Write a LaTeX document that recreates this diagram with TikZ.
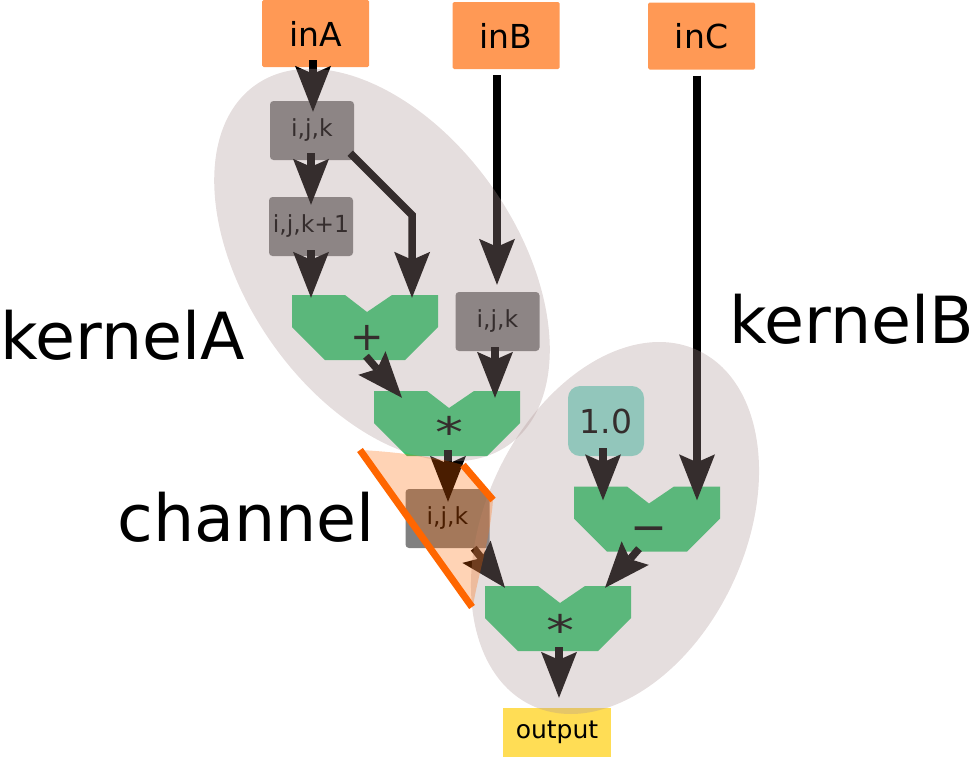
\documentclass[tikz,border=0pt]{standalone}
\usepackage{fontspec}
\usepackage{graphicx}
\setmainfont{DejaVu Sans}
\usetikzlibrary{arrows.meta,calc}
\definecolor{inorange}{HTML}{FF9955}
\definecolor{idxgray}{HTML}{808080}
\definecolor{opgreen}{HTML}{37C871}
\definecolor{tealc}{HTML}{87DECD}
\definecolor{outy}{HTML}{FFDD55}
\definecolor{kernfill}{HTML}{AC9393}
\definecolor{chanc}{HTML}{FF6600}
\newcommand\opsym[2]{\kern4pt\raisebox{#2pt}[0pt][0pt]{#1}}
\begin{document}
\begin{tikzpicture}[x=1pt,y=-1pt,
  inbox/.style={rectangle, fill=inorange, minimum width=107pt, minimum height=67pt, rounded corners=1.5pt, inner sep=0pt, font=\fontsize{33}{40}\selectfont},
  idx/.style={rectangle, fill=idxgray, minimum width=84pt, minimum height=59pt, rounded corners=3.5pt, inner sep=0pt, font=\fontsize{23.5}{28}\selectfont},
  op/.style={rectangle, minimum width=146pt, minimum height=65pt, inner sep=0pt, font=\fontsize{40}{40}\selectfont,
    path picture={\fill[opgreen] (path picture bounding box.north west) -- ++(53,0) -- ++(22,17) -- ++(25,-17) -- ++(46,0) -- ++(0,32) -- ++(-33,33) -- ++(-80,0) -- ++(-33,-33) -- cycle;}},
  constbox/.style={rectangle, fill=tealc, minimum width=76pt, minimum height=70pt, rounded corners=12pt, inner sep=0pt, font=\fontsize{33}{40}\selectfont},
  outbox/.style={rectangle, fill=outy, minimum width=108pt, minimum height=49pt, inner sep=0pt, font=\fontsize{25}{30}\selectfont},
  arr/.style={line width=7.5pt, black, -{Stealth[length=46pt,width=36pt,inset=8pt,line width=0pt]}},
  kern/.style={fill=kernfill, fill opacity=0.31},
  chanfill/.style={fill=chanc, fill opacity=0.29},
  chanline/.style={draw=chanc, line width=7pt},
  biglbl/.style={inner sep=0pt, font=\fontsize{65}{70}\selectfont, anchor=base west}
]
\useasboundingbox (0,0) rectangle (973,758);
% inputs
\node[inbox] (inA) at (315.5,33.5) {inA};
\node[inbox] (inB) at (506,35.5) {inB};
\node[inbox] (inC) at (701.5,36) {inC};
% index boxes
\node[idx] (A1) at (312,130.5) {i,j,k};
\node[idx] (A2) at (311,226.5) {i,j,k+1};
\node[idx] (B) at (497.5,321.5) {i,j,k};
\node[idx] (ch) at (447.5,518.5) {i,j,k};
% operators
\node[op] (plus) at (365,327.5) {\opsym{+}{-23}};
\node[op] (mulA) at (447,423.5) {\opsym{\scalebox{1}[0.75]{\fontsize{56}{56}\selectfont *}}{-24}};
\node[op] (minus) at (647,519) {\opsym{\fontsize{44}{44}\selectfont −}{-23}};
\node[op] (mulB) at (558,618.5) {\opsym{\scalebox{1}[0.75]{\fontsize{56}{56}\selectfont *}}{-27}};
\node[constbox] (one) at (606,421) {1.0};
\node[outbox] (out) at (557,732.5) {output};
% connectors
\draw[arr] ($(inA.south)+(-2.5,-7)$) -- ($(A1.north)+(1,11)$);
\draw[arr] ($(A1.south)+(-1,-7)$) -- ($(A2.north)+(0,8)$);
\draw[arr] ($(A1.south east)+(-4,-7)$) -- ++(62,62) -- ($(plus.north)+(47,3)$);
\draw[arr] ($(A2.south)+(0,-6)$) -- ($(plus.north)+(-54,3)$);
\draw[arr] ($(inB.south)+(-9,6)$) -- ($(B.north)+(-0.5,-7)$);
\draw[arr] ($(plus.south)+(1,-4)$) -- ($(mulA.north)+(-45,7)$);
\draw[arr] ($(B.south)+(-2.5,-4)$) -- ($(mulA.north)+(48,7)$);
\draw[arr] ($(mulA.south)+(1,-6)$) -- ($(ch.north)+(0.5,13)$);
\draw[arr] ($(ch.south east)+(-16,0)$) -- ($(mulB.north)+(-53,2)$);
\draw[arr] ($(one.south)+(-3,-8)$) -- ($(minus.north)+(-44,14)$);
\draw[arr] ($(inC.south)+(-4.5,6)$) -- ($(minus.north)+(50,14)$);
\draw[arr] ($(minus.south)+(-8,-3)$) -- ($(mulB.north)+(47,2)$);
\draw[arr] ($(mulB.south)+(1,-4)$) -- ($(out.north)+(2,-10)$);
% kernels
\fill[kern, rotate around={-55:(382,265)}] (382,265) ellipse [x radius=220, y radius=135];
\fill[kern, rotate around={65:(615,528)}] (615,528) ellipse [x radius=196, y radius=130];
% channel
\fill[chanfill] (360,450) .. controls (400,452) and (440,458) .. (463,465) -- (493,500) .. controls (490,540) and (478,575) .. (473,606) -- cycle;
\draw[chanline] (360,450) -- (472,607);
\draw[chanline] (463,465) -- (493,500);
% labels
\node[biglbl] (lblA) at (0,359) {kernelA};
\node[biglbl] (lblB) at (729,343) {kernelB};
\node[biglbl] (lblC) at (117.5,541) {channel};
\end{tikzpicture}
\end{document}
